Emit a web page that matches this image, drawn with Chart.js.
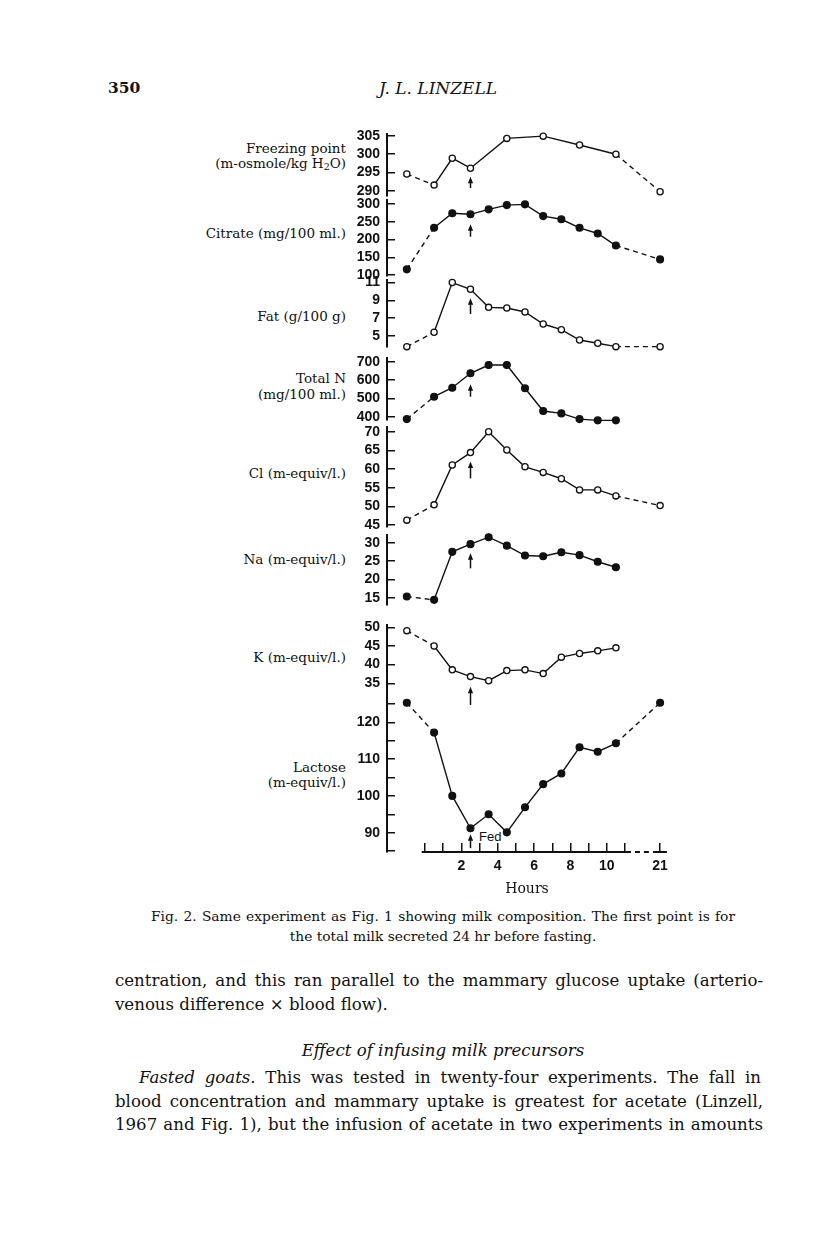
<!DOCTYPE html>
<html><head><meta charset="utf-8">
<script src="https://cdn.jsdelivr.net/npm/chart.js@4/dist/chart.umd.min.js"></script>
<style>
body{margin:0;background:#fff;}
#page{position:relative;width:816px;height:1258px;overflow:hidden;background:#fff;color:#111;font-family:"DejaVu Serif",serif;}
.t{position:absolute;white-space:nowrap;}
.lab{position:absolute;right:470px;text-align:right;font-size:13.5px;line-height:15px;white-space:nowrap;}
.just{position:absolute;white-space:nowrap;}
canvas{position:absolute;}
sub{font-size:70%;vertical-align:-2px;line-height:0;}
</style></head><body><div id="page">
<div class="t" style="left:108px;top:79px;font-size:15.5px;font-weight:bold;line-height:18px;">350</div>
<div class="t" style="left:318px;width:240px;text-align:center;top:78px;font-size:17px;font-style:italic;line-height:20px;">J. L. LINZELL</div>

<div class="lab" style="top:141px;">Freezing point<br>(m-osmole/kg H<sub>2</sub>O)</div>
<div class="lab" style="top:226px;">Citrate (mg/100 ml.)</div>
<div class="lab" style="top:309px;">Fat (g/100 g)</div>
<div class="lab" style="top:370px;line-height:16px;">Total N<br>(mg/100 ml.)</div>
<div class="lab" style="top:466px;">Cl (m-equiv/l.)</div>
<div class="lab" style="top:552px;">Na (m-equiv/l.)</div>
<div class="lab" style="top:650px;">K (m-equiv/l.)</div>
<div class="lab" style="top:760px;">Lactose<br>(m-equiv/l.)</div>
<div class="t" style="left:479px;top:830px;font-family:'Liberation Sans',sans-serif;font-size:13px;line-height:14px;">Fed</div>

<div class="just" data-w="584" style="left:151px;top:908px;font-size:13.8px;line-height:17px;">Fig. 2. Same experiment as Fig. 1 showing milk composition. The first point is for</div>
<div class="t" style="left:243px;width:400px;text-align:center;top:927.5px;font-size:13.8px;line-height:17px;">the total milk secreted 24 hr before fasting.</div>

<div class="just" data-w="648" style="left:115px;top:970px;font-size:16.6px;line-height:21px;">centration, and this ran parallel to the mammary glucose uptake (arterio-</div>
<div class="t" style="left:115px;top:993.5px;font-size:16.6px;line-height:21px;">venous difference × blood flow).</div>
<div class="t" style="left:243px;width:400px;text-align:center;top:1040px;font-size:16.6px;font-style:italic;line-height:21px;">Effect of infusing milk precursors</div>
<div class="just" data-w="622" style="left:139px;top:1067px;font-size:16.6px;line-height:21px;"><i>Fasted goats</i>. This was tested in twenty-four experiments. The fall in</div>
<div class="just" data-w="648" style="left:115px;top:1090.5px;font-size:16.6px;line-height:21px;">blood concentration and mammary uptake is greatest for acetate (Linzell,</div>
<div class="just" data-w="648" style="left:115px;top:1114px;font-size:16.6px;line-height:21px;">1967 and Fig. 1), but the infusion of acetate in two experiments in amounts</div>

<canvas id="c0"></canvas><canvas id="c1"></canvas><canvas id="c2"></canvas><canvas id="c3"></canvas>
<canvas id="c4"></canvas><canvas id="c5"></canvas><canvas id="c6"></canvas><canvas id="c7"></canvas>
</div>
<script>
// ---- data ----
// x: sampling time in hours; first point (-1) is the 24-hr milk before fasting, last point is 21 hr
const hours = [-1, 0.5, 1.5, 2.5, 3.5, 4.5, 5.5, 6.5, 7.5, 8.5, 9.5, 10.5, 21];
const freezingPoint = [294.6, 291.6, 298.9, 296.2, null, 304.3, null, 304.9, null, 302.5, null, 300.0, 289.8];
const citrate = [116, 233, 274, 271, 285, 297, 299, 266, 257, 233, 217, 183, 144];
const fat = [3.76, 5.38, 11.0, 10.24, 8.2, 8.13, 7.68, 6.32, 5.68, 4.51, 4.14, 3.76, 3.76];
const totalN = [387, 509, 558, 637, 682, 682, 555, 431, 418, 387, 380, 380, null];
const chloride = [46.3, 50.4, 61.1, 64.4, 70.0, 65.1, 60.6, 59.1, 57.4, 54.4, 54.4, 52.8, 50.2];
const sodium = [15.3, 14.4, 27.5, 29.6, 31.5, 29.2, 26.5, 26.3, 27.4, 26.6, 24.8, 23.3, null];
const potassium = [49.1, 45.0, 38.6, 36.8, 35.7, 38.4, 38.6, 37.6, 42.0, 43.0, 43.7, 44.5, null];
const lactose = [125.3, 117.2, 100.0, 91.2, 95.0, 90.1, 96.9, 103.2, 106.1, 113.2, 112.0, 114.3, 125.3];
const fedHour = 2.5;

const xTickHours = [0, 1, 2, 3, 4, 5, 6, 7, 8, 9, 10, 11, 21];
const xTickLabels = ['', '', '2', '', '4', '', '6', '', '8', '', '10', '', '21'];
const freezingTicks = [290, 295, 300, 305];
const citrateTicks = [100, 150, 200, 250, 300];
const fatTicks = [5, 7, 9, 11];
const totalNTicks = [400, 500, 600, 700];
const chlorideTicks = [45, 50, 55, 60, 65, 70];
const sodiumTicks = [15, 20, 25, 30];
const potassiumTicks = [35, 40, 45, 50];
const lactoseTicks = [85, 90, 95, 100, 105, 110, 115, 120, 125];
const lactoseTickLabels = ['', '90', '', '100', '', '110', '', '120', ''];

// broken time axis: hours beyond 11 are compressed
function hourToPos(h) { return h <= 11 ? h : 11 + (h - 11) * 0.193; }

// ---- layout / style ----
const panels = [
  {values: freezingPoint, ticks: freezingTicks, open: true,  min: 288.64, max: 305.49, top: 134, bottom: 196, arrow: [290.8, 293.9]},
  {values: citrate,       ticks: citrateTicks,  open: false, min: 97.2,   max: 311.3,  top: 200, bottom: 276, arrow: [207.9, 242.8]},
  {values: fat,           ticks: fatTicks,      open: true,  min: 3.72,   max: 11.29,  top: 280, bottom: 347, arrow: [7.45, 9.23]},
  {values: totalN,        ticks: totalNTicks,   open: false, min: 382,    max: 720.2,  top: 358, bottom: 420, arrow: [509, 576.8]},
  {values: chloride,      ticks: chlorideTicks, open: true,  min: 44.46,  max: 71.27,  top: 427, bottom: 527, arrow: [57.5, 62.0]},
  {values: sodium,        ticks: sodiumTicks,   open: false, min: 13.0,   max: 32.1,   top: 535, bottom: 605, arrow: [23.0, 27.1]},
  {values: potassium,     ticks: potassiumTicks,open: true,  min: 31.06,  max: 50.62,  top: 625, bottom: 698, arrow: [29.2, 34.1]},
  {values: lactose,       ticks: lactoseTicks,  labels: lactoseTickLabels, open: false, min: 84.76, max: 126.6, top: 698, bottom: 852, arrow: [85.8, 89.6], xAxis: true}
];

const INK = '#111';
const CANVAS_LEFT = 300, CANVAS_W = 400, YAXIS_W = 87, PAD_R = 33, PAD_V = 26, XAXIS_H = 50;
const X_MIN = -2.09, X_MAX = 13.31;

const arrowPlugin = {
  id: 'fedArrow',
  afterDatasetsDraw(chart, args, opts) {
    if (!opts || !opts.range) return;
    const {ctx, scales: {x, y}} = chart;
    const px = Math.round(x.getPixelForValue(opts.at)) + 0.5;
    const yb = y.getPixelForValue(opts.range[0]);
    const yt = y.getPixelForValue(opts.range[1]);
    ctx.save();
    ctx.strokeStyle = INK; ctx.fillStyle = INK; ctx.lineWidth = 1.5;
    ctx.beginPath(); ctx.moveTo(px, yb); ctx.lineTo(px, yt + 4); ctx.stroke();
    ctx.beginPath(); ctx.moveTo(px, yt); ctx.lineTo(px - 2.6, yt + 6.5); ctx.lineTo(px + 2.6, yt + 6.5); ctx.closePath(); ctx.fill();
    ctx.restore();
  }
};

const baselinePlugin = {
  id: 'brokenBaseline',
  afterDraw(chart, args, opts) {
    if (!opts || !opts.on) return;
    const {ctx, scales: {x}, chartArea} = chart;
    const y = chartArea.bottom;
    const p = v => x.getPixelForValue(v);
    ctx.save();
    ctx.strokeStyle = INK; ctx.lineWidth = 2;
    ctx.beginPath(); ctx.moveTo(p(-0.18), y); ctx.lineTo(p(11.05), y); ctx.stroke();
    ctx.setLineDash([5, 4]);
    ctx.beginPath(); ctx.moveTo(p(11.05), y); ctx.lineTo(p(12.6), y); ctx.stroke();
    ctx.setLineDash([]);
    ctx.beginPath(); ctx.moveTo(p(12.6), y); ctx.lineTo(p(13.31), y); ctx.stroke();
    ctx.restore();
  }
};

const tickFont = {family: 'Liberation Sans', size: 14, weight: 'bold'};

panels.forEach((pn, k) => {
  const cv = document.getElementById('c' + k);
  const padBottom = pn.xAxis ? 0 : PAD_V;
  const h = PAD_V + (pn.bottom - pn.top) + (pn.xAxis ? XAXIS_H : PAD_V);
  cv.width = CANVAS_W; cv.height = h;
  cv.style.left = CANVAS_LEFT + 'px';
  cv.style.top = (pn.top - PAD_V) + 'px';
  cv.style.width = CANVAS_W + 'px'; cv.style.height = h + 'px';

  const pts = [];
  hours.forEach((hr, i) => { if (pn.values[i] !== null) pts.push({x: hourToPos(hr), y: pn.values[i]}); });

  new Chart(cv, {
    type: 'line',
    data: {datasets: [{
      data: pts,
      borderColor: INK, borderWidth: 1.4, tension: 0, fill: false, clip: false,
      pointRadius: pn.open ? 3.1 : 3.4, pointBorderWidth: 1.3,
      pointBackgroundColor: pn.open ? '#fff' : INK, pointBorderColor: INK,
      segment: {borderDash: c => (c.p0DataIndex === 0 || c.p1.parsed.x > 11.5) ? [5, 4] : undefined}
    }]},
    options: {
      responsive: false, animation: false, events: [],
      layout: {padding: {left: 0, right: PAD_R, top: PAD_V, bottom: padBottom}},
      plugins: {legend: {display: false}, tooltip: {enabled: false},
        fedArrow: {at: fedHour, range: pn.arrow},
        brokenBaseline: {on: !!pn.xAxis}},
      scales: {
        x: {
          type: 'linear', min: X_MIN, max: X_MAX, display: !!pn.xAxis,
          afterBuildTicks: s => { s.ticks = xTickHours.map(v => ({value: hourToPos(v)})); },
          afterFit: s => { s.height = pn.xAxis ? XAXIS_H : 0; s.paddingLeft = 0; s.paddingRight = 0; },
          grid: {drawOnChartArea: false, drawTicks: true, tickLength: -9, color: INK, lineWidth: 1.5},
          border: {display: false},
          ticks: {autoSkip: false, maxRotation: 0, padding: 15, color: INK, font: tickFont,
                  callback: (v, i) => xTickLabels[i]},
          title: {display: true, text: 'Hours', color: INK, font: {family: 'DejaVu Serif', size: 14}, padding: {top: 0, bottom: 4.6}}
        },
        y: {
          type: 'linear', position: 'left', min: pn.min, max: pn.max,
          afterBuildTicks: s => { s.ticks = pn.ticks.map(v => ({value: v})); },
          afterFit: s => { s.width = YAXIS_W; s.paddingTop = 0; s.paddingBottom = 0; },
          grid: {drawOnChartArea: false, drawTicks: true, tickLength: -8, color: INK, lineWidth: 1.5},
          border: {display: true, color: INK, width: 2},
          ticks: {autoSkip: false, padding: 15, color: INK, font: tickFont,
                  callback: (v, i) => pn.labels ? pn.labels[i] : String(pn.ticks[i])}
        }
      }
    },
    plugins: [arrowPlugin, baselinePlugin]
  });
});

// justify single text lines to their measured width in the reference
document.querySelectorAll('.just').forEach(el => {
  const target = parseFloat(el.dataset.w);
  el.style.wordSpacing = '0px';
  const natural = el.getBoundingClientRect().width;
  const spaces = (el.textContent.match(/ /g) || []).length;
  if (spaces) el.style.wordSpacing = ((target - natural) / spaces) + 'px';
});
</script>
</body></html>
